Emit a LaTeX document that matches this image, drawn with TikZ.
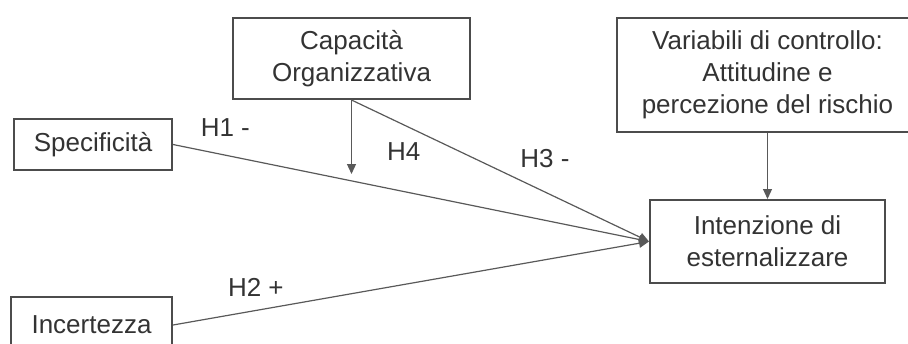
\documentclass[tikz,border=0pt]{standalone}
\usepackage{fontspec}
\setmainfont{Liberation Sans}
\usetikzlibrary{arrows.meta}
\usetikzlibrary{positioning}
\tikzset{	x=0.5pt, y=-0.5pt,
	box/.style={
		draw=black!70,
		line width=1pt,
		align=center,
		text=black!80,
		inner sep=0pt,
		font=\fontsize{13}{16}\selectfont},
	hyp/.style={
		text=black!80,
		inner sep=0pt,
		font=\fontsize{13}{16}\selectfont},
	link/.style={
		draw=black!65,
		line width=0.6pt,
		-{Triangle[length=5pt,width=4.5pt]}}
}
\begin{document}
\begin{tikzpicture}
					\useasboundingbox (0,0) rectangle (908,343);
					\clip (0,0) rectangle (908,343);
					\node[box, minimum width=118.5pt, minimum height=40.5pt] (cap) at (351.5,58.5) {Capacità\\Organizzativa};
					\node[box, minimum width=150.5pt, minimum height=57pt] (var) at (767.5,75) {Variabili di controllo:\\Attitudine e\\percezione del rischio};
					\node[box, minimum width=79pt, minimum height=25.5pt] (spec) at (93,144.5) {Specificità};
					\node[box, minimum width=80.5pt, minimum height=28pt] (inc) at (91.5,325) {Incertezza};
					\node[box, minimum width=117.5pt, minimum height=41.5pt] (int) at (767.5,241.5) {Intenzione di\\esternalizzare};
					\coordinate (mod) at (351.5,174);
					\draw[link] (spec.east) -- node[hyp, pos=0.11, above=9pt] (h1) {H1 -} (int.west);
					\draw[link] (inc.east) -- node[hyp, pos=0.174, above=6.5pt] (h2) {H2 +} (int.west);
					\draw[link] (cap.south) -- node[hyp, pos=0.65, above=12pt] (h3) {H3 -} (int.west);
					\draw[link] (cap.south) -- node[hyp, pos=0.7, right=17.5pt] (h4) {H4} (mod);
					\draw[link] (var) -- (int);
				\end{tikzpicture}
\end{document}
